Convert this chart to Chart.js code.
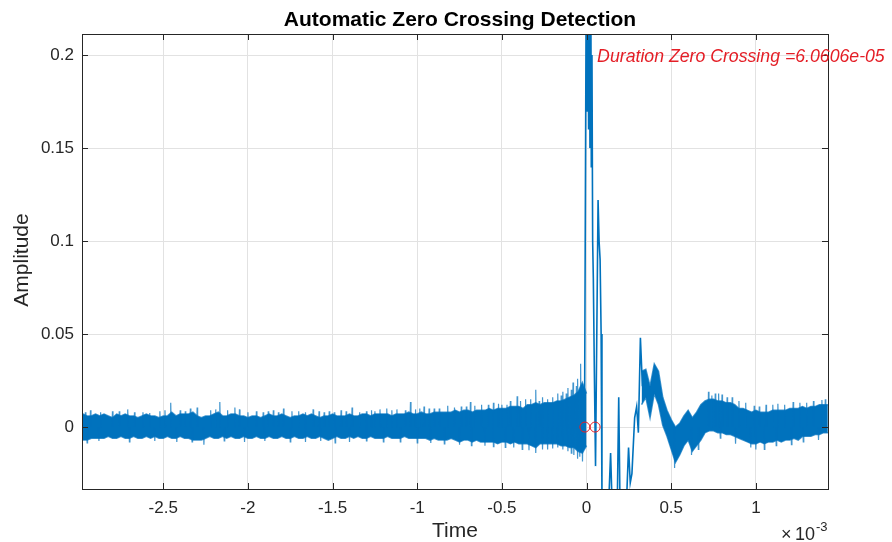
<!DOCTYPE html>
<html>
<head>
<meta charset="utf-8">
<script src="https://cdn.jsdelivr.net/npm/chart.js@4/dist/chart.umd.min.js"></script>
<style>
  html, body { margin: 0; padding: 0; background: #fff; }
  #chart { display: block; }
</style>
</head>
<body>
<canvas id="chart" width="892" height="542"></canvas>
<script>
// time is in units of 1e-3 s (axis shows x10^-3), band / burst / spike values in units of 1e-3
const xMin = -2.98, xMax = 1.426
const yMin = -0.0333, yMax = 0.2113
const xTicks = [-2.5, -2, -1.5, -1, -0.5, 0, 0.5, 1]
const xTickLabels = ['-2.5', '-2', '-1.5', '-1', '-0.5', '0', '0.5', '1']
const yTicks = [0, 0.05, 0.1, 0.15, 0.2]
const yTickLabels = ['0', '0.05', '0.1', '0.15', '0.2']

// noise band before the event, one sample every 0.025
const preStart = -2.975, preStep = 0.025
const preTop = [
    7, 6, 6, 7, 6, 7, 6, 5, 7, 6,
    7, 6, 6, 5, 6, 7, 6, 6, 5, 6,
    6, 8, 6, 7, 7, 7, 8, 6, 5, 6,
    6, 7, 8, 6, 6, 7, 7, 6, 6, 5,
    6, 6, 5, 6, 7, 6, 6, 7, 6, 5,
    6, 6, 7, 6, 7, 6, 5, 6, 6, 7,
    6, 6, 6, 7, 6, 6, 7, 7, 6, 7,
    7, 7, 7, 6, 7, 7, 7, 8, 7, 7,
    8, 7, 7, 8, 8, 8, 8, 8, 9, 8,
    9, 9, 8, 9, 9, 9, 10, 9, 10, 10,
    10, 11, 11, 11, 10, 12, 12, 13, 12, 13,
    13, 13, 14, 14, 15, 16, 17, 19, 24, 18
]
const preBottom = [
    -7, -7, -6, -6, -6, -6, -5, -6, -6, -5,
    -6, -6, -5, -6, -6, -5, -6, -5, -6, -6,
    -5, -6, -6, -5, -6, -6, -7, -7, -7, -6,
    -5, -6, -6, -5, -6, -5, -6, -6, -5, -6,
    -6, -5, -6, -6, -5, -6, -6, -5, -6, -6,
    -5, -6, -6, -5, -6, -6, -5, -6, -7, -6,
    -5, -6, -6, -5, -6, -5, -6, -6, -5, -6,
    -6, -6, -5, -6, -6, -6, -5, -6, -6, -6,
    -6, -6, -7, -6, -7, -7, -7, -6, -7, -8,
    -7, -7, -8, -7, -8, -8, -8, -8, -9, -8,
    -8, -9, -8, -9, -9, -9, -10, -11, -9, -9,
    -9, -9, -9, -10, -10, -11, -11, -13, -14, -10
]

// the burst around zero, traced point by point
const burstTime = [
    -0.012, 0.000, 0.004, 0.008, 0.012, 0.016, 0.020, 0.024, 0.028, 0.032,
    0.036, 0.040, 0.046, 0.053, 0.068, 0.074, 0.080, 0.086, 0.091, 0.097,
    0.110, 0.125, 0.142, 0.152, 0.168, 0.182, 0.190, 0.198, 0.215, 0.232,
    0.248, 0.258, 0.268, 0.284, 0.296, 0.306, 0.318, 0.330
]
const burstValue = [
    0, 290, 170, 290, 160, 290, 150, 280, 140, 200,
    100, 80, 30, -21, 122, 100, 90, 50, -40, -60,
    -45, -55, -14, -45, -60, -38, 16, -45, -60, -50,
    -11, -30, -25, 5, 11, -3, 48, 22
]

// band after the burst, one sample every 0.025
const postStart = 0.325, postStep = 0.025
const postTop = [
    30, 31, 22, 34, 30, 16, 9, 4, 0, 2,
    6, 9, 5, 8, 12, 14, 15, 15, 14, 14,
    13, 13, 12, 10, 10, 9, 8, 9, 8, 8,
    8, 9, 9, 9, 9, 10, 10, 10, 11, 10,
    11, 11, 12, 12, 12
]
const postBottom = [
    12, 16, 5, 18, 12, 1, -5, -12, -19, -15,
    -10, -7, -13, -10, -7, -3, -2, -2, -3, -3,
    -4, -4, -5, -6, -7, -8, -9, -9, -8, -9,
    -8, -8, -7, -8, -7, -7, -6, -7, -5, -5,
    -5, -4, -4, -3, -3
]

// thin needles rising out of the noise band
const spikeTime = [
    -2.96, -2.93, -2.87, -2.80, -2.76, -2.71, -2.67, -2.62, -2.58, -2.52,
    -2.49, -2.456, -2.40, -2.37, -2.34, -2.30, -2.22, -2.19, -2.166, -2.12,
    -2.077, -2.05, -2.00, -1.95, -1.91, -1.88, -1.85, -1.82, -1.79, -1.74,
    -1.70, -1.66, -1.615, -1.58, -1.55, -1.52, -1.49, -1.45, -1.42, -1.385,
    -1.34, -1.30, -1.27, -1.25, -1.22, -1.18, -1.15, -1.12, -1.07, -1.04,
    -1.01, -0.985, -0.96, -0.93, -0.90, -0.87, -0.82, -0.78, -0.74, -0.71,
    -0.686, -0.66, -0.62, -0.58, -0.55, -0.52, -0.50, -0.47, -0.45, -0.41,
    -0.39, -0.36, -0.33, -0.30, -0.28, -0.26, -0.23, -0.20, -0.17, -0.15,
    -0.14, -0.12, -0.11, -0.09, -0.08, -0.06, -0.053, -0.035,
    0.72, 0.74, 0.76, 0.78, 0.80, 0.83, 0.86, 0.90, 0.94, 0.99,
    1.02, 1.06, 1.10, 1.13, 1.17, 1.22, 1.26, 1.30, 1.34, 1.39, 1.41
]
const spikeValue = [
    8, 9, 8, 8.5, 8.5, 9.5, 8, 8, 7.5, 8.5,
    9, 13, 9, 8.5, 10, 10.5, 9, 9.5, 13.5, 9,
    10.5, 9.5, 8, 8.5, 8, 8.5, 9, 8, 10, 8.5,
    8.5, 8, 9.5, 8.5, 8, 8.5, 8, 9, 8.5, 10.5,
    8, 8.5, 9, 8.5, 9.5, 10, 9, 9.5, 9, 13.5,
    9.5, 10, 11, 10, 10, 10, 11.5, 10.5, 11, 11,
    13.5, 11.5, 12, 12, 13, 12.5, 12, 12, 14, 16.5,
    14, 15, 15, 20, 14, 16, 15, 16, 18, 17,
    19, 18, 21, 20, 24, 22, 26, 34,
    19, 17, 18, 18, 17.5, 16, 16, 14, 13, 11.5,
    11, 12, 12, 12.5, 12, 13.5, 13, 13, 14, 14.5, 15
]
const dipTime = [
    -2.95, -2.88, -2.70, -2.55, -2.42, -2.33, -2.26, -2.14, -2.02, -1.90,
    -1.75, -1.66, -1.57, -1.485, -1.40, -1.30, -1.20, -1.10, -1.00, -0.92,
    -0.84, -0.75, -0.68, -0.60, -0.55, -0.48, -0.43, -0.38, -0.34, -0.30,
    -0.26, -0.23, -0.20, -0.17, -0.14, -0.11, -0.09, -0.075, -0.053, -0.04, -0.024,
    0.52, 0.62, 0.66, 0.79, 0.88, 0.97, 1.00, 1.05, 1.12, 1.21, 1.28, 1.37
]
const dipValue = [
    -8.5, -7.5, -8, -7.5, -8, -8, -9.5, -7.5, -8, -7.5,
    -8, -8, -7.5, -8.5, -8, -7.5, -8, -8, -8.5, -8.5,
    -9, -9.5, -10, -10, -10.5, -11, -11, -12, -12.5, -14,
    -12, -12, -11.5, -11, -12, -13, -14, -15, -17, -16, -18.5,
    -22, -15, -12, -6, -9, -11, -12, -12, -10, -9.5, -8, -7
]

const crossings = [-0.01, 0.0506]
const durationText = 'Duration Zero Crossing =6.0606e-05'
const durationY = 0.2

const BLUE = 'rgb(0,114,189)'
const BLUE_EDGE = 'rgba(0,114,189,0.75)'
const RED = '#e41e26'
const INK = '#262626'
const FONT = '"Liberation Sans", Arial, Helvetica, sans-serif'

const bandPoints = (start, step, vals) => vals.map((v, i) => ({ x: start + i * step, y: v / 1000 }))

// each needle: up from the band centre to its value and straight back
const needlePoints = (times, vals) => {
    const pts = []
    times.forEach((t, i) => {
        pts.push({ x: t - 0.003, y: 0 }, { x: t, y: vals[i] / 1000 }, { x: t + 0.003, y: 0 }, { x: t, y: null })
    })
    return pts
}

const frame = {
    id: 'frame',
    afterDraw(chart) {
        const { ctx, chartArea: a, scales } = chart
        const x = scales.x, y = scales.y
        ctx.save()
        ctx.strokeStyle = INK
        ctx.lineWidth = 1
        ctx.strokeRect(a.left + 0.5, a.top + 0.5, a.width, a.height)

        // inward tick marks on all four sides
        ctx.beginPath()
        xTicks.forEach(t => {
            const px = Math.round(x.getPixelForValue(t)) + 0.5
            ctx.moveTo(px, a.bottom); ctx.lineTo(px, a.bottom - 6)
            ctx.moveTo(px, a.top); ctx.lineTo(px, a.top + 6)
        })
        yTicks.forEach(t => {
            const py = Math.round(y.getPixelForValue(t)) + 0.5
            ctx.moveTo(a.left, py); ctx.lineTo(a.left + 6, py)
            ctx.moveTo(a.right, py); ctx.lineTo(a.right - 6, py)
        })
        ctx.stroke()

        // title
        ctx.fillStyle = '#000'
        ctx.font = 'bold 21px ' + FONT
        ctx.textAlign = 'center'
        ctx.textBaseline = 'middle'
        ctx.fillText('Automatic Zero Crossing Detection', 460, 20)

        // axis titles
        ctx.fillStyle = INK
        ctx.font = '21px ' + FONT
        ctx.fillText('Time', 455, 531)
        ctx.save()
        ctx.translate(22, 260)
        ctx.rotate(-Math.PI / 2)
        ctx.fillText('Amplitude', 0, 0)
        ctx.restore()

        // exponent label
        ctx.textAlign = 'left'
        ctx.textBaseline = 'alphabetic'
        ctx.font = '18px ' + FONT
        ctx.fillText('\u00d7', 781, 540)
        ctx.fillText('10', 795, 540)
        const w10 = ctx.measureText('10').width
        ctx.font = '13px ' + FONT
        ctx.fillText('-3', 795 + w10 + 1, 531)

        // zero crossing duration note
        ctx.fillStyle = RED
        ctx.font = 'italic 17.7px ' + FONT
        ctx.textBaseline = 'middle'
        ctx.fillText(durationText, x.getPixelForValue(crossings[1]) + 2, y.getPixelForValue(durationY) + 2)
        ctx.restore()
    }
}

const ctx = document.getElementById('chart')
const chart = new Chart(ctx, {
    type: 'line',
    data: {
        datasets: [
            {
                label: 'crossings',
                data: crossings.map(t => ({ x: t, y: 0 })),
                showLine: false,
                pointRadius: 5,
                pointBorderWidth: 1,
                pointBorderColor: RED,
                pointBackgroundColor: 'rgba(0,0,0,0)'
            },
            {
                label: 'burst',
                data: burstTime.map((t, i) => ({ x: t, y: burstValue[i] / 1000 })),
                borderColor: BLUE,
                borderWidth: 1.6,
                fill: false
            },
            {
                label: 'spikes',
                data: needlePoints(spikeTime, spikeValue),
                borderColor: BLUE_EDGE,
                borderWidth: 1.2,
                spanGaps: false,
                fill: false
            },
            {
                label: 'dips',
                data: needlePoints(dipTime, dipValue),
                borderColor: BLUE_EDGE,
                borderWidth: 1.2,
                spanGaps: false,
                fill: false
            },
            {
                label: 'preTop',
                data: bandPoints(preStart, preStep, preTop),
                borderColor: BLUE_EDGE,
                borderWidth: 1.5,
                fill: false
            },
            {
                label: 'preBottom',
                data: bandPoints(preStart, preStep, preBottom),
                borderColor: BLUE_EDGE,
                borderWidth: 1.5,
                backgroundColor: BLUE,
                fill: '-1'
            },
            {
                label: 'postTop',
                data: bandPoints(postStart, postStep, postTop),
                borderColor: BLUE_EDGE,
                borderWidth: 1.5,
                fill: false
            },
            {
                label: 'postBottom',
                data: bandPoints(postStart, postStep, postBottom),
                borderColor: BLUE_EDGE,
                borderWidth: 1.5,
                backgroundColor: BLUE,
                fill: '-1'
            }
        ]
    },
    options: {
        responsive: false,
        animation: false,
        layout: { padding: { top: 34, right: 64, bottom: 0, left: 0 } },
        elements: { point: { radius: 0 }, line: { tension: 0 } },
        plugins: { legend: { display: false }, tooltip: { enabled: false } },
        scales: {
            x: {
                type: 'linear',
                min: xMin,
                max: xMax,
                afterBuildTicks: s => { s.ticks = xTicks.map(v => ({ value: v })) },
                afterFit: s => { s.height = 53 },
                border: { display: false },
                grid: { color: '#e2e2e2', drawTicks: false },
                ticks: {
                    padding: 9,
                    color: INK,
                    font: { family: FONT, size: 17 },
                    maxRotation: 0,
                    callback: (v) => xTickLabels[xTicks.indexOf(v)]
                }
            },
            y: {
                type: 'linear',
                min: yMin,
                max: yMax,
                afterBuildTicks: s => { s.ticks = yTicks.map(v => ({ value: v })) },
                afterFit: s => { s.width = 82 },
                border: { display: false },
                grid: { color: '#e2e2e2', drawTicks: false },
                ticks: {
                    padding: 8,
                    color: INK,
                    font: { family: FONT, size: 17 },
                    callback: (v) => yTickLabels[yTicks.indexOf(v)]
                }
            }
        }
    },
    plugins: [frame]
});
</script>
</body>
</html>
